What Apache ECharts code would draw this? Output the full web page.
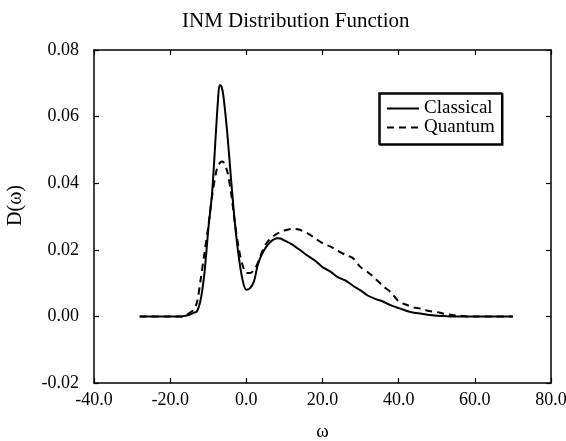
<!DOCTYPE html>
<html>
<head>
<meta charset="utf-8">
<script src="https://cdn.jsdelivr.net/npm/echarts@6/dist/echarts.min.js"></script>
<style>
html,body{margin:0;padding:0;background:#fff;}
#chart{width:566px;height:441px;}
</style>
</head>
<body>
<div id="chart"></div>
<script>
const omega = [-28,-20,-17,-16,-15,-14,-13,-12,-11,-10,-9,-8,-7.5,-7,-6.5,-6,-5,-4,-3,-2,-1,0,1,2,3,4,5,6,7,8,9,10,12,14,16,18,20,22,24,26,28,30,32,34,36,38,40,42,44,46,48,50,52,54,56,58,60,65,70];
const classical = [0,0,0,0.0002,0.0005,0.001,0.0015,0.005,0.013,0.026,0.037,0.055,0.064,0.0695,0.069,0.066,0.055,0.041,0.028,0.018,0.011,0.008,0.0085,0.0105,0.0155,0.0185,0.0205,0.022,0.023,0.0235,0.0234,0.0228,0.0216,0.0200,0.0183,0.0168,0.0148,0.0135,0.0118,0.0108,0.0092,0.0078,0.0062,0.0052,0.0044,0.0033,0.0025,0.0017,0.0011,0.0008,0.0004,0.0002,0.0001,0,0,0,0,0,0];
const quantum = [0,0,0,0.0003,0.001,0.0018,0.004,0.011,0.019,0.027,0.036,0.043,0.045,0.046,0.0465,0.0463,0.0435,0.037,0.028,0.0205,0.0155,0.013,0.013,0.014,0.016,0.019,0.0215,0.023,0.024,0.0248,0.0253,0.0258,0.0263,0.026,0.025,0.0235,0.022,0.021,0.0197,0.0185,0.0175,0.0148,0.0132,0.0112,0.009,0.0072,0.0045,0.0035,0.0027,0.0023,0.0016,0.0013,0.0008,0.0004,0.0002,0,0,0,0];
const xTicks = {min:-40, max:80, interval:20};
const yTicks = {min:-0.02, max:0.08, interval:0.02};

const font = 'Liberation Serif';
const zip = (xs, ys) => xs.map((x, i) => [x, ys[i]]);
const axisLine = {show:true, onZero:false, lineStyle:{color:'#000', width:1.5}};
const tick = {show:true, inside:true, length:5, lineStyle:{color:'#000', width:1.2}};
const lbl = {color:'#000', fontFamily:font, fontSize:18};

const chart = echarts.init(document.getElementById('chart'));
chart.setOption({
  animation:false,
  backgroundColor:'#fff',
  title:{text:'INM Distribution Function', left:182, top:11, padding:0,
    textStyle:{fontFamily:font, fontSize:21, fontWeight:'normal', color:'#000'}},
  grid:{left:94, right:15, top:50, bottom:58, containLabel:false, outerBoundsMode:'none'},
  legend:{orient:'vertical', left:379, top:93, padding:[6,7,7,7], itemGap:0, itemTextGap:10,
    itemWidth:32, itemHeight:10, borderColor:'#000', borderWidth:1.5,
    backgroundColor:'#fff', shadowColor:'#000', shadowOffsetX:1, shadowOffsetY:1, shadowBlur:0,
    itemStyle:{color:'rgba(0,0,0,0)', borderWidth:0},
    textStyle:{fontFamily:font, fontSize:19, lineHeight:16, color:'#000'},
    data:['Classical','Quantum']},
  xAxis:[
    {type:'value', min:xTicks.min, max:xTicks.max, interval:xTicks.interval, position:'bottom',
     name:'ω', nameLocation:'middle', nameGap:40, nameTextStyle:{fontFamily:font, fontSize:19, color:'#000'},
     axisLine, axisTick:tick, splitLine:{show:false},
     axisLabel:{...lbl, margin:8, formatter:v=>v.toFixed(1)}},
    {type:'value', min:xTicks.min, max:xTicks.max, interval:xTicks.interval, position:'top',
     axisLine, axisTick:tick, splitLine:{show:false}, axisLabel:{show:false}}
  ],
  yAxis:[
    {type:'value', min:yTicks.min, max:yTicks.max, interval:yTicks.interval, position:'left',
     name:'D(ω)', nameLocation:'middle', nameGap:68, nameTextStyle:{fontFamily:font, fontSize:20, color:'#000', padding:[0,0,0,22]},
     axisLine, axisTick:tick, splitLine:{show:false},
     axisLabel:{...lbl, margin:15, formatter:v=>v.toFixed(2)}},
    {type:'value', min:yTicks.min, max:yTicks.max, interval:yTicks.interval, position:'right',
     axisLine, axisTick:tick, splitLine:{show:false}, axisLabel:{show:false}}
  ],
  series:[
    {name:'Classical', type:'line', xAxisIndex:0, yAxisIndex:0, data:zip(omega, classical),
     symbol:'none', smooth:0.3, lineStyle:{color:'#000', width:2, type:'solid'}, itemStyle:{color:'#000'}},
    {name:'Quantum', type:'line', xAxisIndex:0, yAxisIndex:0, data:zip(omega, quantum),
     symbol:'none', smooth:0.3, lineStyle:{color:'#000', width:2, type:[7,5]}, itemStyle:{color:'#000'}}
  ]
});
</script>
</body>
</html>
